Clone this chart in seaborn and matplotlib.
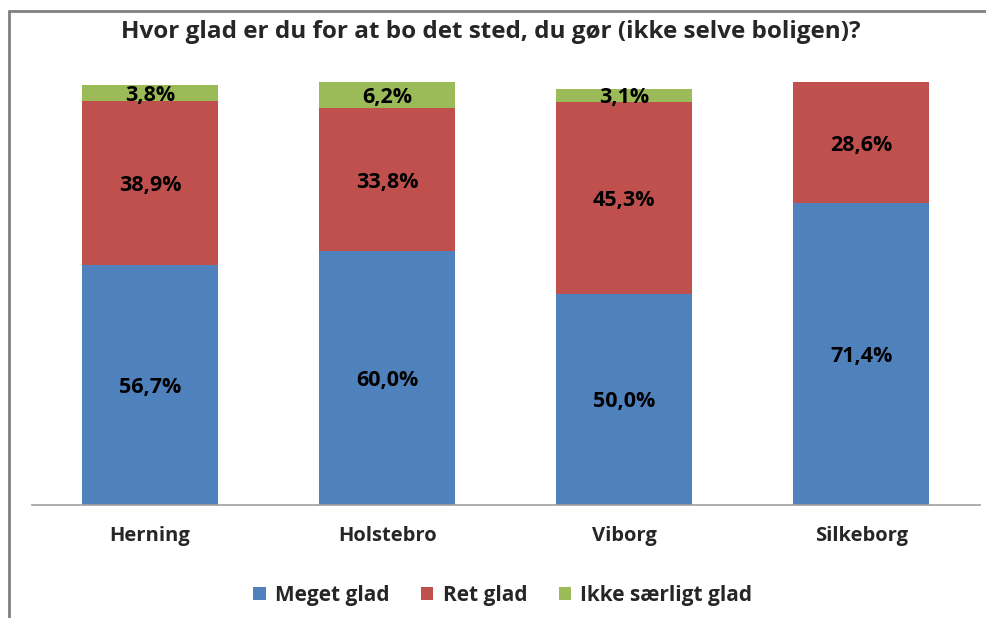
import numpy as np
import pandas as pd
import seaborn as sns
import matplotlib.pyplot as plt
from matplotlib.lines import Line2D
from matplotlib.patches import Patch

# data
byer = ['Herning', 'Holstebro', 'Viborg', 'Silkeborg']
meget_glad = [56.7, 60.0, 50.0, 71.4]
ret_glad = [38.9, 33.8, 45.3, 28.6]
ikke_glad = [3.8, 6.2, 3.1, 0.0]
serier = ['Meget glad', 'Ret glad', 'Ikke særligt glad']
farver = ['#4F81BD', '#C0504D', '#9BBB59']

df = pd.DataFrame({'by': byer, 'Meget glad': meget_glad,
                   'Ret glad': ret_glad, 'Ikke særligt glad': ikke_glad})
# cumulative tops for layered stacked bars
df['top1'] = df['Meget glad']
df['top2'] = df['top1'] + df['Ret glad']
df['top3'] = df['top2'] + df['Ikke særligt glad']

sns.set_style('white')
plt.rcParams['font.family'] = ['Open Sans', 'DejaVu Sans']
plt.rcParams['font.weight'] = 'bold'

fig = plt.figure(figsize=(9.86, 6.18), dpi=100)
ax = fig.add_axes([0.032, 0.1828, 0.9615, 0.6845])

w = 0.574
for col, c in zip(['top3', 'top2', 'top1'], farver[::-1]):
    sns.barplot(data=df, x='by', y=col, color=c, width=w, saturation=1, linewidth=0, ax=ax)

# value labels in the middle of each segment
for i in range(len(byer)):
    bund = 0
    for s in serier:
        v = df[s][i]
        if v > 0:
            ax.text(i, bund + v / 2, f'{v:.1f}%'.replace('.', ','), ha='center',
                    va='center_baseline', fontsize=15.5, fontweight='bold', color='black')
        bund += v

ax.set_ylim(0, 100)
ax.set_xlim(-0.5, 3.5)
ax.set_xlabel('')
ax.set_ylabel('')
ax.set_yticks([])
for sp in ['top', 'right', 'left']:
    ax.spines[sp].set_visible(False)
ax.spines['bottom'].set_color('#A0A0A0')
ax.spines['bottom'].set_linewidth(1.2)
ax.tick_params(axis='x', length=0, pad=15, labelsize=14.5)
for t in ax.get_xticklabels():
    t.set_fontweight('bold')

fig.text(0.498, 0.948, 'Hvor glad er du for at bo det sted, du gør (ikke selve boligen)?',
         ha='center', va='center', fontsize=17.5, fontweight='bold')

handles = [Patch(facecolor=c, edgecolor='none') for c in farver]
fig.legend(handles, serier, loc='center', bbox_to_anchor=(0.51, 0.037), ncol=3, frameon=False,
           prop={'size': 15, 'weight': 'bold'}, handlelength=0.6, handleheight=0.6,
           handletextpad=0.45, columnspacing=1.5)

# chart border (left and top visible in the crop)
fig.add_artist(Line2D([9 / 986, 9 / 986], [0, 1 - 11 / 618], color='#808080', lw=2,
                      transform=fig.transFigure))
fig.add_artist(Line2D([9 / 986, 1], [1 - 11 / 618, 1 - 11 / 618], color='#808080', lw=2,
                      transform=fig.transFigure))

fig.savefig('out.png', dpi=100)
